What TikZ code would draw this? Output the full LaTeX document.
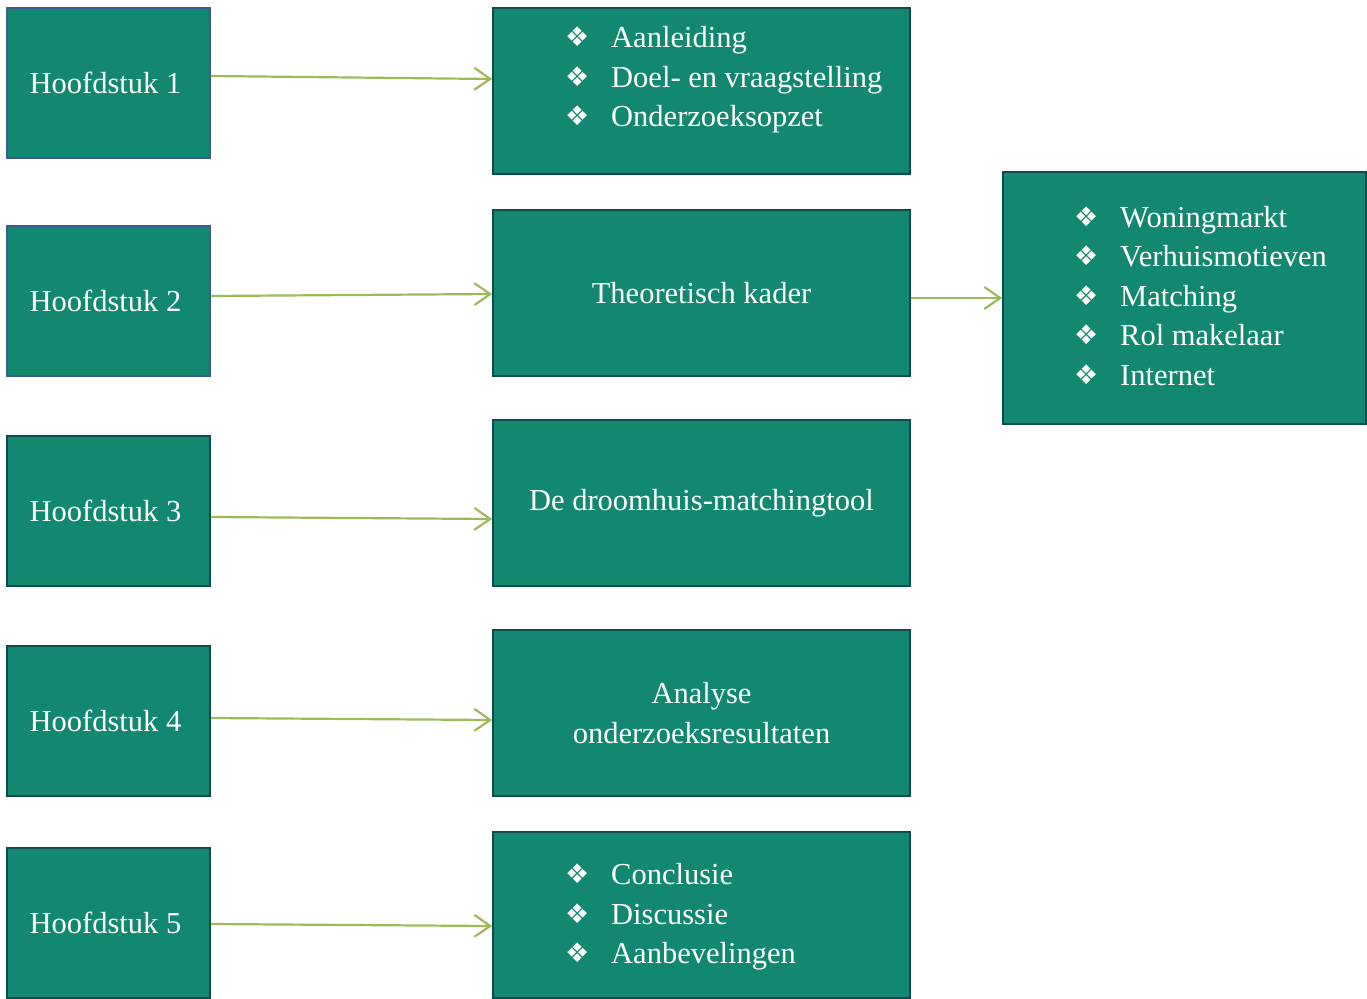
\documentclass[tikz,border=0pt]{standalone}
\usepackage{fontspec}
\setmainfont{Liberation Serif}
\newfontfamily\bulletfont{DejaVu Sans}
\usepackage{xcolor}
\usetikzlibrary{arrows.meta}
\definecolor{boxColor}{HTML}{138871}
\definecolor{edgeColor}{HTML}{0F4A50}
\definecolor{blueEdge}{HTML}{3D5B8E}
\definecolor{linkColor}{HTML}{9BBB59}

\newcommand{\lstitem}[1]{\makebox[46pt][l]{\raisebox{1pt}{\bulletfont\fontsize{27}{27}\selectfont ❖}}#1}

\begin{document}
\begin{tikzpicture}[x=1pt, y=-1pt,
    txt/.style={text=white, font=\fontsize{30.5}{39.5}\selectfont},
    chap/.style={txt, draw=edgeColor, fill=boxColor, line width=1.6pt, inner sep=0pt,
        minimum width=203pt, minimum height=150pt},
    part/.style={chap, minimum width=417pt, minimum height=166pt, align=center},
    lst/.style={txt, inner sep=0pt, align=left, anchor=west},
    link/.style={linkColor, line width=2.2pt, -{Straight Barb[length=16pt, width=22pt, line width=2.2pt]}}]
    \useasboundingbox (0,0) rectangle (1367,998);

    % chapters on the left
    \foreach \i/\y/\c in {1/83/blueEdge, 2/301/blueEdge, 3/511/edgeColor, 4/721/edgeColor, 5/923/edgeColor}
        \node[chap, draw=\c] (h\i) at (108.5,\y) {\hspace{-6pt}Hoofdstuk \i};

    % contents
    \node[part] (r1) at (701.5,91) {};
    \node[part] (r2) at (701.5,293) {Theoretisch kader};
    \node[part] (r3) at (701.5,503) {De droomhuis-matchingtool};
    \node[part] (r4) at (701.5,713) {Analyse\\onderzoeksresultaten};
    \node[part] (r5) at (701.5,915) {};
    \node[chap, minimum width=363pt, minimum height=252pt] (th) at (1184.5,298) {};

    \node[lst] (l1) at (565,80) {\lstitem{Aanleiding}\\\lstitem{Doel- en vraagstelling}\\\lstitem{Onderzoeksopzet}};
    \node[lst] (l5) at (565,917) {\lstitem{Conclusie}\\\lstitem{Discussie}\\\lstitem{Aanbevelingen}};
    \node[lst] (lt) at (1074,296) {\lstitem{Woningmarkt}\\\lstitem{Verhuismotieven}\\\lstitem{Matching}\\\lstitem{Rol makelaar}\\\lstitem{Internet}};

    % arrows
    \draw[link] ([yshift=7pt]h1.east) -- ([yshift=12pt]r1.west);
    \draw[link] ([yshift=5pt]h2.east) -- ([yshift=-1pt]r2.west);
    \draw[link] ([yshift=-6pt]h3.east) -- ([yshift=-16pt]r3.west);
    \draw[link] ([yshift=3pt]h4.east) -- ([yshift=-7pt]r4.west);
    \draw[link] ([yshift=-1pt]h5.east) -- ([yshift=-11pt]r5.west);
    \draw[link] ([yshift=-5pt]r2.east) -- (th.west);
\end{tikzpicture}
\end{document}
